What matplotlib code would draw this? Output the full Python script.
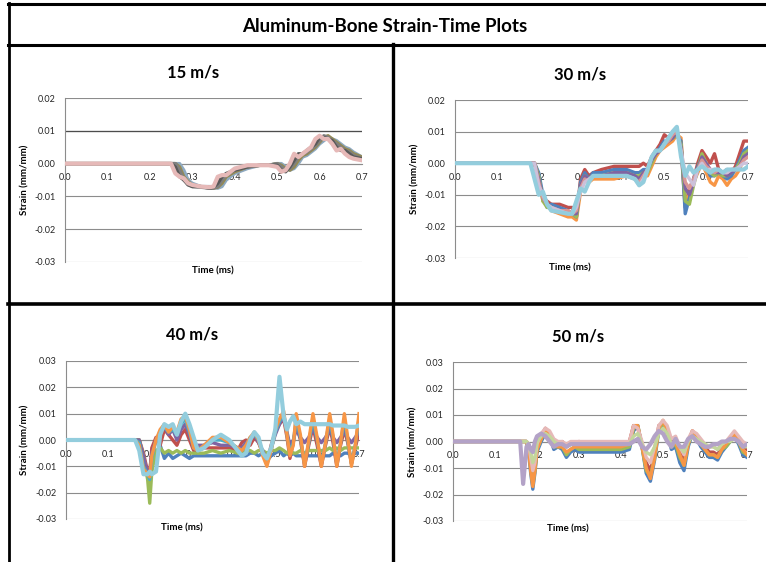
import matplotlib
matplotlib.use("Agg")
import matplotlib.pyplot as plt
from matplotlib.lines import Line2D

W, H = 766, 562
FONT = "Lato"

# ---------------- 15 m/s ----------------
T15 = [0, 0.25, 0.26, 0.27, 0.28, 0.29, 0.30, 0.32, 0.34, 0.35, 0.36, 0.37, 0.38,
       0.40, 0.43, 0.46, 0.48, 0.50, 0.51, 0.52, 0.53, 0.54, 0.55, 0.56, 0.57,
       0.58, 0.59, 0.60, 0.61, 0.62, 0.63, 0.64, 0.65, 0.66, 0.67, 0.68, 0.70]
S15_a = [0, 0, -0.001, -0.004, -0.005, -0.0065, -0.007, -0.007, -0.0075, -0.0072, -0.006,
         -0.004, -0.003, -0.002, -0.001, -0.0005, -0.0005, -0.0005, -0.002, -0.0025, -0.001,
         0.001, 0.003, 0.003, 0.004, 0.005, 0.006, 0.008, 0.008, 0.0075, 0.007, 0.005,
         0.004, 0.004, 0.003, 0.002, 0.0015]
S15_b = [0, 0, 0, -0.002, -0.005, -0.006, -0.007, -0.0072, -0.0075, -0.0075, -0.007,
         -0.005, -0.0035, -0.002, -0.001, -0.0005, -0.0005, 0.0, -0.001, -0.002, -0.0015,
         0.0, 0.002, 0.003, 0.0035, 0.0045, 0.0055, 0.007, 0.0085, 0.008, 0.007, 0.006,
         0.005, 0.004, 0.0035, 0.0025, 0.0015]
S15_c = [0, 0, 0, -0.001, -0.004, -0.0055, -0.0065, -0.007, -0.0072, -0.0075, -0.0072,
         -0.006, -0.004, -0.0025, -0.001, -0.0005, -0.0005, 0.0, -0.0005, -0.0015, -0.002,
         -0.001, 0.001, 0.0025, 0.003, 0.004, 0.005, 0.0065, 0.008, 0.0085, 0.0075, 0.0065,
         0.0055, 0.0045, 0.004, 0.003, 0.002]
S15_d = [0, 0, 0, 0, -0.002, -0.005, -0.006, -0.007, -0.007, -0.0072, -0.0075,
         -0.007, -0.005, -0.003, -0.0015, -0.0005, -0.0005, 0.0, 0.0, -0.001, -0.002,
         -0.0015, 0.0, 0.002, 0.0025, 0.0035, 0.0045, 0.006, 0.007, 0.008, 0.0075, 0.007,
         0.006, 0.005, 0.0045, 0.0035, 0.002]
S15_e = [0, 0, -0.003, -0.004, -0.0045, -0.006, -0.0065, -0.007, -0.0072, -0.007, -0.004,
         -0.0035, -0.0035, -0.0015, -0.0005, -0.0005, -0.0005, -0.001, -0.0025, -0.002, 0.0,
         0.003, 0.002, 0.003, 0.004, 0.005, 0.0075, 0.0085, 0.0075, 0.0075, 0.006, 0.004,
         0.0045, 0.003, 0.002, 0.0015, 0.001]
C15 = ["#8EA9C1", "#948A54", "#7F7F7F", "#595959", "#E6B9B8"]

# ---------------- 30 m/s ----------------
T30 = [0, 0.18, 0.19, 0.20, 0.21, 0.22, 0.23, 0.25, 0.27, 0.28, 0.29, 0.30, 0.31,
       0.32, 0.33, 0.35, 0.38, 0.41, 0.43, 0.44, 0.45, 0.46, 0.47, 0.48, 0.49, 0.50,
       0.51, 0.52, 0.53, 0.54, 0.55, 0.56, 0.57, 0.58, 0.59, 0.60, 0.61, 0.62, 0.63,
       0.64, 0.65, 0.66, 0.67, 0.68, 0.69, 0.70]
S30_red = [0, 0, 0, -0.005, -0.011, -0.012, -0.013, -0.013, -0.014, -0.014, -0.017, -0.005,
           -0.002, -0.004, -0.003, -0.002, -0.001, -0.001, -0.001, -0.001, 0.0, -0.001, 0.002,
           0.004, 0.006, 0.009, 0.008, 0.009, 0.010, 0.005, -0.014, -0.008, -0.005, 0.000,
           0.004, 0.002, 0.000, 0.003, -0.002, -0.003, -0.002, -0.003, -0.001, 0.003, 0.007, 0.007]
S30_orange = [0, 0, 0, -0.004, -0.012, -0.013, -0.015, -0.016, -0.017, -0.017, -0.018, -0.009,
              -0.005, -0.006, -0.005, -0.005, -0.005, -0.004, -0.005, -0.006, -0.004, -0.004,
              -0.001, 0.002, 0.004, 0.005, 0.006, 0.007, 0.009, 0.008, -0.012, -0.010, -0.006,
              -0.003, 0.000, -0.003, -0.006, -0.007, -0.004, -0.005, -0.007, -0.005, -0.004,
              -0.002, 0.002, 0.003]
S30_blue = [0, 0, 0, -0.003, -0.010, -0.014, -0.013, -0.014, -0.015, -0.016, -0.017, -0.006,
            -0.003, -0.005, -0.003, -0.003, -0.002, -0.002, -0.003, -0.003, -0.002, -0.002,
            0.001, 0.003, 0.005, 0.007, 0.007, 0.008, 0.009, 0.007, -0.016, -0.011, -0.005,
            -0.001, 0.002, -0.001, -0.004, -0.004, -0.003, -0.004, -0.005, -0.004, -0.002,
            0.001, 0.004, 0.005]
S30_green = [0, 0, 0, -0.004, -0.012, -0.014, -0.014, -0.015, -0.016, -0.016, -0.017, -0.007,
             -0.004, -0.005, -0.004, -0.004, -0.003, -0.003, -0.004, -0.004, -0.003, -0.003,
             0.000, 0.003, 0.004, 0.006, 0.007, 0.008, 0.009, 0.006, -0.012, -0.013, -0.007,
             -0.002, 0.003, 0.000, -0.003, -0.004, -0.003, -0.004, -0.004, -0.003, -0.002,
             0.000, 0.003, 0.004]
S30_purple = [0, 0, 0, -0.005, -0.011, -0.013, -0.014, -0.015, -0.016, -0.016, -0.016, -0.007,
              -0.004, -0.005, -0.004, -0.004, -0.003, -0.003, -0.004, -0.005, -0.003, -0.002,
              0.001, 0.003, 0.004, 0.006, 0.007, 0.008, 0.010, 0.005, -0.008, -0.010, -0.006,
              -0.002, 0.002, 0.000, -0.002, -0.003, -0.003, -0.003, -0.004, -0.003, -0.002,
              -0.001, 0.002, 0.003]
S30_pink = [0, 0, 0, -0.006, -0.011, -0.013, -0.014, -0.015, -0.015, -0.016, -0.015, -0.008,
            -0.005, -0.006, -0.004, -0.004, -0.004, -0.004, -0.005, -0.006, -0.004, -0.002,
            0.002, 0.004, 0.004, 0.006, 0.007, 0.009, 0.010, 0.004, -0.006, -0.008, -0.005,
            -0.002, 0.001, -0.001, -0.002, -0.003, -0.002, -0.003, -0.003, -0.002, -0.002,
            -0.001, 0.001, 0.002]
S30_lavender = [0, 0, 0, -0.007, -0.010, -0.013, -0.014, -0.015, -0.016, -0.016, -0.014, -0.009,
                -0.006, -0.005, -0.004, -0.004, -0.004, -0.004, -0.005, -0.007, -0.005, -0.002,
                0.002, 0.004, 0.004, 0.006, 0.008, 0.010, 0.011, 0.004, -0.003, -0.005, -0.007,
                -0.002, 0.000, -0.002, -0.002, -0.002, -0.002, -0.003, -0.003, -0.002, -0.002,
                -0.001, 0.000, 0.000]
S30_ltblue = [0, 0, -0.005, -0.010, -0.009, -0.013, -0.015, -0.0155, -0.016, -0.016, -0.012,
              -0.008, -0.009, -0.006, -0.004, -0.004, -0.004, -0.004, -0.005, -0.007, -0.006,
              -0.002, 0.002, 0.004, 0.004, 0.006, 0.008, 0.010, 0.0115, 0.002, -0.004, -0.001,
              -0.003, -0.002, -0.001, -0.002, -0.003, -0.002, -0.002, -0.003, -0.002, -0.002,
              -0.002, -0.002, -0.002, -0.001]
C30 = ["#C0504D", "#F79646", "#4F81BD", "#9BBB59", "#8064A2", "#D99694", "#CCC1DA", "#93CDDD"]

# ---------------- 40 m/s ----------------
T40 = [0, 0.165, 0.175, 0.185, 0.195, 0.20, 0.205, 0.215, 0.225, 0.235, 0.245, 0.255,
       0.265, 0.275, 0.285, 0.295, 0.305, 0.315, 0.33, 0.35, 0.37, 0.39, 0.41, 0.42,
       0.43, 0.44, 0.45, 0.46, 0.47, 0.48, 0.49, 0.50, 0.51, 0.52, 0.528, 0.535, 0.543,
       0.55, 0.56, 0.57, 0.58, 0.59, 0.60, 0.61, 0.62, 0.63, 0.638, 0.647, 0.656, 0.665,
       0.673, 0.682, 0.691, 0.70]
S40_blue = [0, 0, 0, -0.008, -0.014, -0.016, -0.010, -0.006, -0.002, -0.007, -0.005, -0.007,
            -0.006, -0.005, -0.006, -0.007, -0.006, -0.006, -0.006, -0.006, -0.006, -0.006,
            -0.006, -0.006, -0.006, -0.005, -0.005, -0.006, -0.005, -0.008, -0.006, -0.005,
            -0.004, -0.006, -0.005, -0.006, -0.005, -0.006, -0.006, -0.006, -0.006, -0.006,
            -0.006, -0.006, -0.006, -0.006, -0.005, -0.006, -0.006, -0.005, -0.005, -0.006,
            -0.005, -0.005]
S40_red = [0, 0, 0, -0.005, -0.012, -0.013, -0.003, 0.001, -0.002, 0.004, 0.002, 0.000,
           -0.002, 0.002, 0.004, 0.000, -0.004, -0.004, -0.003, -0.003, -0.003, -0.003,
           -0.004, -0.001, 0.000, -0.002, 0.001, -0.001, -0.005, -0.009, -0.002, 0.003,
           0.006, 0.008, 0.001, -0.007, -0.001, 0.006, 0.000, -0.010, -0.002, 0.005, -0.002,
           -0.010, -0.002, 0.005, -0.001, -0.010, -0.002, 0.004, -0.001, -0.009, -0.003, 0.003]
S40_green = [0, 0, 0, -0.006, -0.015, -0.024, -0.012, -0.004, -0.003, -0.005, -0.004, -0.005,
             -0.004, -0.005, -0.004, -0.005, -0.005, -0.005, -0.005, -0.004, -0.005, -0.004,
             -0.005, -0.005, -0.004, -0.004, -0.005, -0.004, -0.004, -0.005, -0.004, -0.004,
             -0.003, -0.004, -0.005, -0.004, -0.005, -0.005, -0.004, -0.005, -0.004, -0.004,
             -0.004, -0.004, -0.004, -0.003, -0.004, -0.003, -0.004, -0.003, -0.003, -0.003,
             -0.003, -0.003]
S40_purple = [0, 0, 0, -0.006, -0.013, -0.012, -0.005, 0.000, 0.003, 0.005, 0.002, 0.004,
              0.000, 0.004, 0.006, 0.002, -0.003, -0.002, -0.002, -0.001, -0.002, -0.002,
              -0.003, -0.003, -0.001, 0.000, 0.002, -0.001, -0.004, -0.008, -0.003, 0.002,
              0.006, 0.009, 0.003, -0.002, 0.000, 0.004, 0.001, -0.001, 0.001, 0.004, 0.001,
              -0.001, 0.001, 0.004, 0.001, -0.001, 0.001, 0.003, 0.001, -0.001, 0.001, 0.003]
S40_teal = [0, 0, -0.001, -0.010, -0.013, -0.015, -0.007, 0.000, 0.003, 0.005, 0.003, 0.004,
            0.002, 0.006, 0.008, 0.003, -0.003, -0.004, -0.002, 0.000, 0.000, -0.001, -0.003,
            -0.004, -0.002, 0.001, 0.002, 0.000, -0.005, -0.009, -0.004, 0.003, 0.007, 0.010,
            0.002, -0.005, -0.001, 0.008, 0.001, -0.009, -0.001, 0.008, 0.000, -0.009, -0.001,
            0.008, 0.001, -0.009, -0.001, 0.008, 0.000, -0.009, -0.002, 0.008]
S40_orange = [0, 0, -0.002, -0.011, -0.013, -0.014, -0.006, 0.000, 0.004, 0.006, 0.003, 0.005,
              0.003, 0.008, 0.009, 0.004, -0.003, -0.004, -0.002, 0.001, 0.001, -0.001, -0.003,
              -0.004, -0.002, 0.001, 0.003, 0.000, -0.006, -0.010, -0.004, 0.004, 0.008, 0.011,
              0.002, -0.006, -0.002, 0.010, 0.002, -0.010, 0.000, 0.010, 0.001, -0.010, -0.001,
              0.010, 0.002, -0.010, -0.001, 0.010, 0.001, -0.010, -0.002, 0.010]
S40_ltblue = [0, 0, -0.004, -0.013, -0.013, -0.012, -0.013, -0.012, 0.002, 0.006, 0.005, 0.006,
              0.002, 0.007, 0.010, 0.006, 0.001, -0.004, -0.003, 0.000, 0.002, 0.000, -0.004,
              -0.006, -0.005, 0.000, 0.003, 0.001, -0.005, -0.007, -0.003, 0.004, 0.024, 0.009,
              0.004, 0.007, 0.009, 0.006, 0.007, 0.006, 0.006, 0.006, 0.006, 0.006, 0.006,
              0.006, 0.0055, 0.0055, 0.0055, 0.0055, 0.005, 0.005, 0.005, 0.0055]
C40 = ["#4F81BD", "#C0504D", "#9BBB59", "#8064A2", "#4BACC6", "#F79646", "#93CDDD"]

# ---------------- 50 m/s ----------------
T50 = [0, 0.16, 0.167, 0.175, 0.18, 0.185, 0.19, 0.195, 0.20, 0.21, 0.22, 0.23, 0.24,
       0.25, 0.26, 0.27, 0.28, 0.29, 0.30, 0.32, 0.34, 0.36, 0.38, 0.40, 0.42, 0.43,
       0.44, 0.45, 0.46, 0.47, 0.48, 0.49, 0.50, 0.51, 0.52, 0.53, 0.54, 0.55, 0.56,
       0.57, 0.58, 0.59, 0.60, 0.61, 0.62, 0.63, 0.64, 0.65, 0.66, 0.67, 0.68, 0.69, 0.70]
S50_blue = [0, 0, 0, 0, -0.004, -0.012, -0.018, -0.012, -0.004, 0.000, 0.003, 0.002, -0.003,
            -0.002, -0.003, -0.006, -0.004, -0.003, -0.004, -0.004, -0.004, -0.004, -0.004,
            -0.004, -0.003, 0.004, 0.006, -0.002, -0.012, -0.015, -0.007, 0.004, 0.007, 0.003,
            -0.003, -0.002, -0.008, -0.011, -0.002, 0.003, 0.001, -0.002, -0.004, -0.006,
            -0.006, -0.007, -0.004, -0.002, 0.000, 0.002, -0.001, -0.005, -0.006]
S50_red = [0, 0, 0, 0, -0.002, -0.008, -0.013, -0.010, -0.002, 0.002, 0.005, 0.003, 0.000,
           -0.001, 0.000, -0.002, -0.001, -0.001, 0.000, -0.001, -0.001, -0.001, -0.001,
           -0.001, 0.000, 0.006, 0.005, -0.001, -0.008, -0.011, -0.004, 0.006, 0.007, 0.004,
           -0.001, 0.001, -0.004, -0.007, 0.000, 0.004, 0.002, 0.000, -0.002, -0.004, -0.004,
           -0.005, -0.002, -0.001, 0.001, 0.003, 0.001, -0.002, -0.003]
S50_green = [0, 0, 0, 0, -0.003, -0.010, -0.016, -0.011, -0.003, 0.001, 0.004, 0.002, -0.002,
             -0.002, -0.002, -0.005, -0.003, -0.002, -0.003, -0.003, -0.003, -0.003, -0.003,
             -0.003, -0.002, 0.005, 0.006, -0.002, -0.011, -0.013, -0.006, 0.005, 0.007, 0.003,
             -0.002, -0.001, -0.006, -0.009, -0.001, 0.003, 0.001, -0.001, -0.003, -0.005,
             -0.005, -0.006, -0.003, -0.002, 0.000, 0.002, 0.000, -0.004, -0.005]
S50_orange = [0, 0, 0, 0, -0.003, -0.011, -0.017, -0.011, -0.003, 0.001, 0.004, 0.003, -0.001,
              -0.002, -0.002, -0.004, -0.003, -0.002, -0.002, -0.002, -0.002, -0.002, -0.002,
              -0.002, -0.001, 0.006, 0.006, -0.002, -0.010, -0.014, -0.006, 0.005, 0.008, 0.004,
              -0.002, 0.000, -0.005, -0.009, -0.001, 0.004, 0.002, -0.001, -0.003, -0.005,
              -0.005, -0.006, -0.003, -0.001, 0.001, 0.003, 0.000, -0.003, -0.005]
S50_pink = [0, 0, 0, 0, -0.001, -0.006, -0.011, -0.008, -0.001, 0.003, 0.005, 0.004, 0.001,
            0.000, 0.000, -0.001, 0.000, 0.000, 0.000, 0.000, 0.000, 0.000, 0.000, 0.000,
            0.000, 0.006, 0.005, 0.000, -0.006, -0.008, -0.002, 0.006, 0.008, 0.006, 0.001,
            0.002, -0.002, -0.005, 0.001, 0.004, 0.003, 0.001, -0.001, -0.002, -0.002, -0.003,
            -0.001, 0.000, 0.002, 0.004, 0.002, 0.000, -0.001]
S50_ltgreen = [0, 0, 0, 0, -0.001, -0.004, -0.008, -0.006, 0.000, 0.002, 0.003, 0.002, 0.000,
               -0.001, -0.001, -0.002, -0.001, -0.001, -0.001, -0.001, -0.001, -0.001, -0.001,
               -0.001, -0.001, 0.002, 0.003, -0.001, -0.004, -0.005, -0.002, 0.003, 0.005, 0.003,
               -0.001, 0.000, -0.002, -0.004, 0.000, 0.002, 0.001, 0.000, -0.001, -0.002, -0.002,
               -0.003, -0.001, 0.000, 0.000, 0.001, 0.000, -0.002, -0.002]
S50_lavender = [0, 0, -0.016, -0.002, -0.001, -0.003, -0.004, 0.000, 0.002, 0.003, 0.002, 0.000,
                -0.002, -0.001, -0.001, -0.002, -0.001, -0.001, -0.001, -0.001, -0.001, -0.001,
                -0.001, -0.001, -0.001, 0.000, 0.001, -0.002, -0.003, -0.001, 0.002, 0.004, 0.003,
                0.000, -0.002, 0.001, -0.002, -0.002, 0.001, 0.002, 0.000, -0.001, -0.002, -0.002,
                -0.001, -0.001, 0.000, 0.000, 0.001, 0.001, 0.000, -0.002, -0.001]
C50 = ["#4F81BD", "#C0504D", "#9BBB59", "#F79646", "#E6B9B8", "#C3D69B", "#B3A2C7"]

X_TICKS = [0.0, 0.1, 0.2, 0.3, 0.4, 0.5, 0.6, 0.7]
GRID = "#8C8C8C"


def fx(x):
    return x / W


def fy(y):
    return 1 - y / H


def draw_panel(fig, box, title, title_xy, ylab_x, xlab_xy, yticks, t, series, colors,
               dark_grid=None):
    l, top, r, b = box
    ax = fig.add_axes([fx(l), fy(b), (r - l) / W, (b - top) / H])
    ax.set_axisbelow(True)
    for s, c in zip(series, colors):
        assert len(s) == len(t)
        ax.plot(t, s, color=c, lw=2.4, solid_joinstyle="round", zorder=3)
    # last series sits on top, a bit thicker
    ax.lines[-1].set_linewidth(3.0)
    ax.set_xlim(0, 0.7)
    ax.set_ylim(yticks[0], yticks[-1])
    ax.set_yticks(yticks)
    ax.set_yticklabels([f"{v:.2f}" for v in yticks])
    ax.set_xticks(X_TICKS)
    ax.set_xticklabels([f"{v:.1f}" for v in X_TICKS])
    ax.yaxis.grid(True, color=GRID, lw=0.8)
    if dark_grid is not None:
        ax.axhline(dark_grid, color="#4D4D4D", lw=0.9, zorder=1)
    for side in ("top", "right"):
        ax.spines[side].set_visible(False)
    ax.spines["left"].set_color(GRID)
    ax.spines["left"].set_linewidth(0.8)
    ax.spines["bottom"].set_position(("data", 0))
    ax.spines["bottom"].set_color(GRID)
    ax.spines["bottom"].set_linewidth(0.8)
    ax.tick_params(axis="both", length=0, labelsize=6.5, colors="#262626")
    ax.tick_params(axis="y", pad=7)
    ax.tick_params(axis="x", pad=7)
    for lab in ax.get_xticklabels() + ax.get_yticklabels():
        lab.set_fontfamily(FONT)
    fig.text(fx(title_xy[0]), fy(title_xy[1]), title, ha="center", va="center",
             fontsize=12, fontweight="bold", family=FONT)
    fig.text(fx(ylab_x), fy((top + b) / 2), "Strain (mm/mm)", ha="center", va="center",
             rotation=90, fontsize=7, fontweight="bold", family=FONT)
    fig.text(fx(xlab_xy[0]), fy(xlab_xy[1]), "Time (ms)", ha="center", va="center",
             fontsize=7, fontweight="bold", family=FONT)
    return ax


fig = plt.figure(figsize=(W / 100, H / 100), dpi=100)
fig.patch.set_facecolor("white")

Y_A = [-0.03, -0.02, -0.01, 0.0, 0.01, 0.02]
Y_B = [-0.03, -0.02, -0.01, 0.0, 0.01, 0.02, 0.03]

draw_panel(fig, (65, 98, 362, 262), "15 m/s", (193, 73), 25, (213, 271), Y_A,
           T15, [S15_d, S15_c, S15_b, S15_a, S15_e], C15, dark_grid=0.01)
draw_panel(fig, (455, 100, 748, 258), "30 m/s", (580, 75), 415, (570, 268), Y_A,
           T30, [S30_red, S30_orange, S30_blue, S30_green, S30_purple, S30_pink,
                 S30_lavender, S30_ltblue], C30)
draw_panel(fig, (66, 361, 359, 519), "40 m/s", (192, 335), 25, (182, 528), Y_B,
           T40, [S40_blue, S40_red, S40_green, S40_purple, S40_teal, S40_orange,
                 S40_ltblue], C40)
draw_panel(fig, (453, 362, 747, 521), "50 m/s", (578, 337), 413, (568, 529), Y_B,
           T50, [S50_blue, S50_red, S50_green, S50_orange, S50_pink, S50_ltgreen,
                 S50_lavender], C50)

# frame lines of the composite
frame = [
    ((8, 766), (4, 4), 2.2),
    ((8, 766), (44.5, 44.5), 2.2),
    ((9, 9), (3, 562), 2.0),
    ((392.5, 392.5), (44, 562), 2.4),
    ((8, 766), (304, 304), 2.6),
]
for xs, ys, lw in frame:
    fig.add_artist(Line2D([fx(x) for x in xs], [fy(y) for y in ys], color="black",
                          lw=lw, transform=fig.transFigure))

fig.text(fx(385), fy(26), "Aluminum-Bone Strain-Time Plots", ha="center", va="center",
         fontsize=13.5, fontweight="bold", family=FONT)

fig.savefig("out.png", dpi=100)
